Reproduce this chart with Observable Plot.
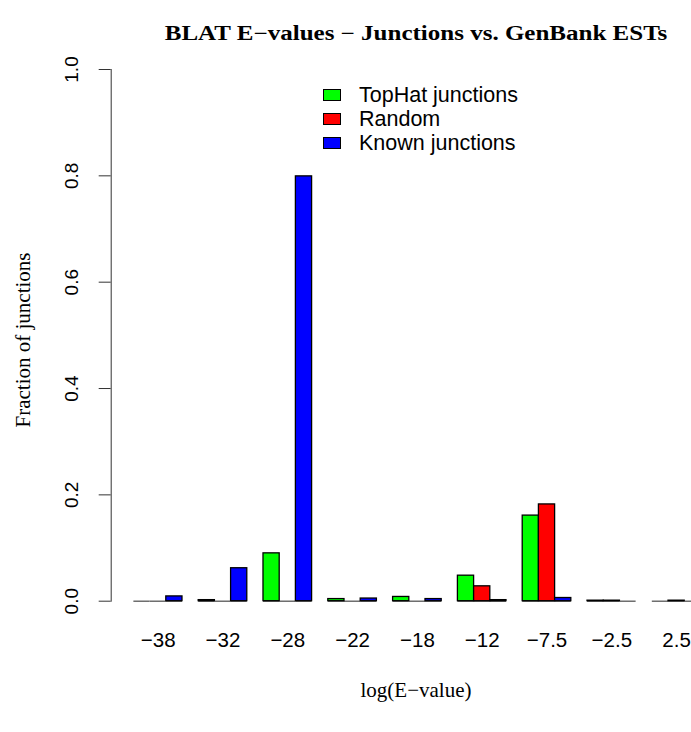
<!DOCTYPE html>
<html>
<head>
<meta charset="utf-8">
<script src="https://cdn.jsdelivr.net/npm/d3@7"></script>
<script src="https://cdn.jsdelivr.net/npm/@observablehq/plot@0.6"></script>
<style>
  html, body { margin: 0; padding: 0; background: #fff; overflow: hidden; }
  #wrap { position: relative; width: 691px; height: 732px; overflow: hidden; }
  #chart { position: absolute; left: 0; top: 0; width: 760px; }
  #chart svg { max-width: none !important; }
  .ov { position: absolute; white-space: nowrap; color: #000; }
  .title { font-family: "Liberation Serif", serif; font-weight: bold; font-size: 20px; transform: translate(-50%, -50%) scaleX(1.25); }
  .axt { font-family: "Liberation Serif", serif; font-size: 21px; transform: translate(-50%, -50%); }
  .ylab { transform: translate(-50%, -50%) rotate(-90deg); }
  .leg { font-family: "Liberation Sans", Arial, sans-serif; font-size: 21.5px; display: flex; align-items: center; }
  .sw { display: inline-block; width: 16px; height: 10px; border: 1px solid #000; margin-right: 18px; }
</style>
</head>
<body>
<div id="wrap">
  <div id="chart"></div>
</div>
<script>
const categories = ["\u221238", "\u221232", "\u221228", "\u221222", "\u221218", "\u221212", "\u22127.5", "\u22122.5", "2.5"];
const seriesNames = ["TopHat junctions", "Random", "Known junctions"];
const seriesColors = ["#00ff00", "#ff0000", "#0000ff"];
const tophat = [0.000, 0.002, 0.090, 0.004, 0.008, 0.048, 0.161, 0.001, 0.000];
const random = [0.000, 0.000, 0.000, 0.000, 0.000, 0.028, 0.182, 0.001, 0.001];
const known  = [0.009, 0.062, 0.799, 0.005, 0.004, 0.002, 0.006, 0.000, 0.000];
const yTicks = [0, 0.2, 0.4, 0.6, 0.8, 1.0];
const titleText = "BLAT E\u2212values \u2212 Junctions vs. GenBank ESTs";
const xTitle = "log(E\u2212value)";
const yTitle = "Fraction of junctions";

const values = [tophat, random, known];
const rows = [];
categories.forEach((c, gi) => {
  seriesNames.forEach((s, si) => {
    const x1 = gi * 4 + si + 1;
    rows.push({cat: c, series: s, value: values[si][gi], x1, x2: x1 + 1});
  });
});
const centers = categories.map((c, gi) => gi * 4 + 2.5);

const chart = Plot.plot({
  width: 760,
  height: 732,
  marginLeft: 110.7,
  marginRight: 36.9,
  marginTop: 69,
  marginBottom: 131.3,
  style: {fontFamily: "'Liberation Sans', Arial, sans-serif", fontSize: "20px", color: "#000", background: "#fff", maxWidth: "none"},
  x: {domain: [-0.4, 37.4], axis: null},
  y: {domain: [0, 1], axis: null},
  color: {domain: seriesNames, range: seriesColors},
  marks: [
    Plot.ruleY(rows, {x1: "x1", x2: "x2", y: 0, stroke: "#555", strokeWidth: 1.3}),
    Plot.rectY(rows.filter(d => d.value > 0), {x1: "x1", x2: "x2", y1: 0, y2: "value", fill: "series", stroke: "#000", strokeWidth: 1.3}),
    Plot.frame({anchor: "left", stroke: "#333"}),
    Plot.axisY(yTicks, {anchor: "left", label: null, tickSize: 12, tickRotate: -90, tickPadding: 21, fontSize: 19, tickFormat: d3.format(".1f"), stroke: "#333"}),
    Plot.axisX(centers, {anchor: "bottom", label: null, tickSize: 0, tickPadding: 31, fontSize: 20.5,
      tickFormat: d => categories[Math.round((d - 2.5) / 4)]})
  ]
});
chart.style.maxWidth = "none";
document.getElementById("chart").appendChild(chart);

const wrap = document.getElementById("wrap");
function addText(cls, text, x, y) {
  const el = document.createElement("div");
  el.className = "ov " + cls;
  el.textContent = text;
  el.style.left = x + "px";
  el.style.top = y + "px";
  wrap.appendChild(el);
  return el;
}
addText("title", titleText, 416, 33);
addText("axt", xTitle, 416, 690);
addText("axt ylab", yTitle, 23, 340);

seriesNames.forEach((s, i) => {
  const el = document.createElement("div");
  el.className = "ov leg";
  el.style.left = "323px";
  el.style.top = (95 + i * 24 - 12) + "px";
  el.style.height = "24px";
  const sw = document.createElement("span");
  sw.className = "sw";
  sw.style.background = seriesColors[i];
  el.appendChild(sw);
  el.appendChild(document.createTextNode(s));
  wrap.appendChild(el);
});
</script>
</body>
</html>
